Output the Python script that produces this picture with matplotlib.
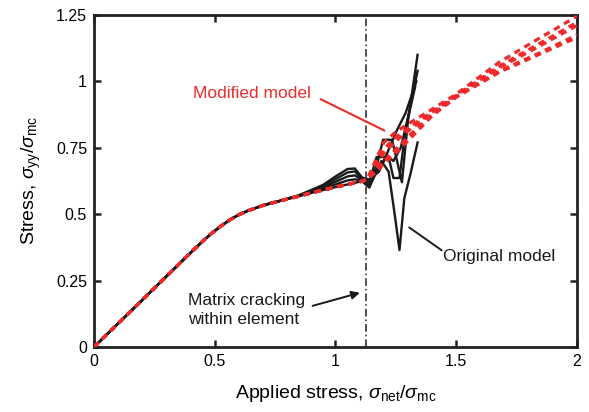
import matplotlib
matplotlib.use('Agg')
import matplotlib.pyplot as plt

plt.rcParams['font.family'] = ['Liberation Sans', 'DejaVu Sans']
plt.rcParams['mathtext.fontset'] = 'custom'
plt.rcParams['mathtext.rm'] = 'Liberation Sans'
plt.rcParams['mathtext.it'] = 'Liberation Sans:italic'

RED = '#ee2a2a'

# shared loading path (all runs identical up to here)
pre_x = [0, 0.2, 0.4, 0.45, 0.49, 0.53, 0.565, 0.6, 0.635, 0.7, 0.77]
pre_y = [0, 0.177, 0.355, 0.398, 0.43, 0.458, 0.48, 0.498, 0.512, 0.533, 0.55]

# original model, five runs: fan-out before cracking
orig_fan_x = [0.85, 0.9, 0.95, 1.0, 1.05, 1.08, 1.11]
orig_fan_y = [
    [0.568, 0.580, 0.591, 0.602, 0.612, 0.618, 0.624],
    [0.569, 0.583, 0.596, 0.612, 0.627, 0.631, 0.627],
    [0.570, 0.585, 0.601, 0.622, 0.642, 0.646, 0.630],
    [0.571, 0.588, 0.606, 0.632, 0.657, 0.661, 0.634],
    [0.572, 0.591, 0.611, 0.642, 0.670, 0.672, 0.638],
]
# original model after cracking (unstable)
orig_tail_x = [
    [1.14, 1.16, 1.19, 1.22, 1.245, 1.265, 1.285, 1.31, 1.34],
    [1.14, 1.17, 1.197, 1.234, 1.255, 1.275, 1.30, 1.34],
    [1.14, 1.17, 1.22, 1.24, 1.265, 1.29, 1.34],
    [1.14, 1.16, 1.20, 1.255, 1.29, 1.335],
    [1.14, 1.18, 1.21, 1.24, 1.27, 1.30, 1.33],
]
orig_tail_y = [
    [0.60, 0.64, 0.70, 0.66, 0.50, 0.365, 0.56, 0.65, 0.77],
    [0.61, 0.68, 0.78, 0.78, 0.70, 0.62, 0.85, 1.10],
    [0.62, 0.715, 0.715, 0.636, 0.636, 0.82, 1.04],
    [0.62, 0.66, 0.70, 0.817, 0.88, 1.00],
    [0.63, 0.66, 0.72, 0.70, 0.75, 0.86, 0.98],
]

# modified model, five runs
mod_x = [0.85, 0.9, 0.95, 1.0, 1.05, 1.08, 1.11, 1.13, 1.17, 1.2, 1.25, 1.31, 1.4, 1.5, 1.68, 1.84, 2.0]
mod_y = [
    [0.568, 0.58, 0.591, 0.602, 0.612, 0.618, 0.624, 0.63, 0.71, 0.77, 0.81, 0.845, 0.895, 0.952, 1.073, 1.16, 1.245],
    [0.568, 0.58, 0.591, 0.602, 0.612, 0.618, 0.624, 0.63, 0.69, 0.745, 0.79, 0.83, 0.885, 0.948, 1.058, 1.14, 1.222],
    [0.568, 0.58, 0.591, 0.602, 0.612, 0.618, 0.624, 0.63, 0.68, 0.73, 0.775, 0.82, 0.88, 0.945, 1.052, 1.13, 1.21],
    [0.568, 0.58, 0.591, 0.602, 0.612, 0.618, 0.624, 0.63, 0.67, 0.70, 0.745, 0.80, 0.875, 0.942, 1.04, 1.105, 1.175],
    [0.568, 0.58, 0.591, 0.602, 0.612, 0.618, 0.624, 0.63, 0.66, 0.69, 0.73, 0.785, 0.87, 0.94, 1.035, 1.10, 1.165],
]

crack_x = 1.125

fig = plt.figure(figsize=(5.89, 4.12), dpi=100)
ax = fig.add_axes([0.1596, 0.1578, 0.820, 0.806])

for fy, tx, ty in zip(orig_fan_y, orig_tail_x, orig_tail_y):
    ax.plot(pre_x + orig_fan_x + tx, pre_y + fy + ty, color='#1a1a1a', lw=1.7, zorder=2)

for my in mod_y:
    ax.plot(pre_x + mod_x, pre_y + my, color=RED, lw=2.3,
            linestyle=(0, (2.0, 1.6)), zorder=3)

ax.axvline(crack_x, color='#222222', lw=1.1, linestyle=(0, (5, 2, 1, 2)), zorder=1)

ax.set_xlim(0, 2)
ax.set_ylim(0, 1.25)
ax.set_xticks([0, 0.5, 1, 1.5, 2])
ax.set_xticklabels(['0', '0.5', '1', '1.5', '2'])
ax.set_yticks([0, 0.25, 0.5, 0.75, 1, 1.25])
ax.set_yticklabels(['0', '0.25', '0.5', '0.75', '1', '1.25'])
ax.tick_params(direction='in', length=5, width=1.8, labelsize=11.5,
               top=True, right=True, pad=5, color='#222222')
for s in ax.spines.values():
    s.set_linewidth(2.0)
    s.set_color('#222222')

ax.set_xlabel(r'Applied stress, $\sigma_{\mathrm{net}}/\sigma_{\mathrm{mc}}$', fontsize=14, labelpad=10)
ax.set_ylabel(r'Stress, $\sigma_{\mathrm{yy}}/\sigma_{\mathrm{mc}}$', fontsize=14, labelpad=9)

# annotations
ax.annotate('', xy=(1.213, 0.81), xytext=(0.928, 0.9375),
            arrowprops=dict(arrowstyle='-', color=RED, lw=1.5))
ax.text(0.896, 0.955, 'Modified model', color=RED, fontsize=12.5, ha='right', va='center')

ax.annotate('', xy=(1.296, 0.456), xytext=(1.449, 0.358),
            arrowprops=dict(arrowstyle='-', color='#1a1a1a', lw=1.4))
ax.text(1.447, 0.34, 'Original model', color='#1a1a1a', fontsize=12.5, ha='left', va='center')

ax.annotate('', xy=(1.112, 0.207), xytext=(0.894, 0.152),
            arrowprops=dict(arrowstyle='-|>', color='#1a1a1a', lw=1.4, mutation_scale=12))
ax.text(0.389, 0.14, 'Matrix cracking\nwithin element', color='#1a1a1a', fontsize=12.5,
        ha='left', va='center', linespacing=1.35)

fig.savefig('out.png', dpi=100, facecolor='white')
